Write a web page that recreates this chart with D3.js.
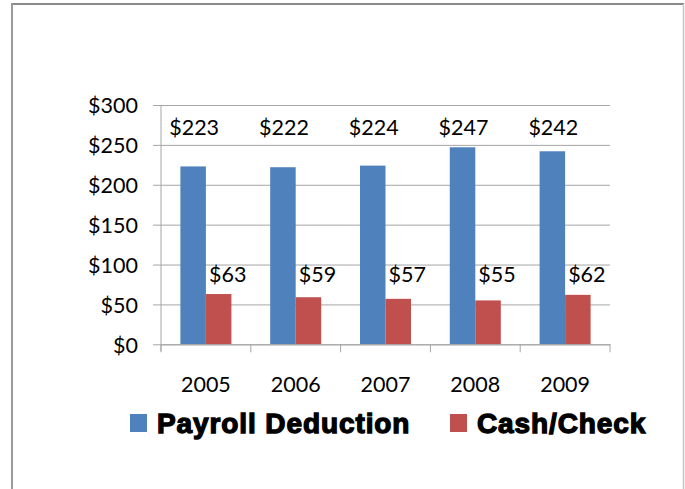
<!DOCTYPE html>
<html>
<head>
<meta charset="utf-8">
<script src="https://cdn.jsdelivr.net/npm/d3@7"></script>
<style>
  html, body { margin: 0; padding: 0; background: #fff; }
  svg { display: block; }
</style>
</head>
<body>
<svg id="chart" width="685" height="489"></svg>
<script>
const categories = ["2005", "2006", "2007", "2008", "2009"];
const seriesNames = ["Payroll Deduction", "Cash/Check"];
const payroll = [223, 222, 224, 247, 242];
const cash = [63, 59, 57, 55, 62];
const yTicks = [0, 50, 100, 150, 200, 250, 300];
const colors = ["#4f81bd", "#c0504d"];

(function () {
const svg = d3.select("#chart");
const W = 685, H = 489;
svg.append("rect").attr("width", W).attr("height", H).attr("fill", "#fff");

// frame
svg.append("line").attr("x1", 11).attr("x2", 684).attr("y1", 4).attr("y2", 4)
  .attr("stroke", "#8a8a8a").attr("stroke-width", 2);
svg.append("line").attr("x1", 12).attr("x2", 12).attr("y1", 3).attr("y2", H)
  .attr("stroke", "#9a9a9a").attr("stroke-width", 2);
svg.append("line").attr("x1", 683.5).attr("x2", 683.5).attr("y1", 4).attr("y2", H)
  .attr("stroke", "#c4c4c4").attr("stroke-width", 1.5);

const pLeft = 161, pRight = 610, pTop = 105, pBottom = 344.3;
const font = "Lato, 'Open Sans', sans-serif";
const fs = 21.5;

const x0 = d3.scaleBand().domain(categories).range([pLeft, pRight]).paddingInner(0).paddingOuter(0);
const x1 = d3.scaleBand().domain(seriesNames).range([0, x0.bandwidth()]).paddingInner(0).paddingOuter(0.76);
const y = d3.scaleLinear().domain([0, 300]).range([pBottom, pTop]);

// gridlines + y axis
const yAxis = d3.axisLeft(y).tickValues(yTicks).tickSize(8).tickPadding(15)
  .tickFormat(d => "$" + d);
const gy = svg.append("g").attr("transform", `translate(${pLeft},0)`).call(yAxis);
gy.select(".domain").remove();
gy.selectAll(".tick line").attr("stroke", "#a6a6a6").attr("x2", pRight - pLeft).attr("x1", -8);
gy.selectAll(".tick text").attr("font-family", font).attr("font-size", fs)
  .attr("fill", "#000").attr("dy", "0.36em");
svg.append("line").attr("x1", pLeft).attr("x2", pLeft).attr("y1", pTop).attr("y2", pBottom + 7)
  .attr("stroke", "#a6a6a6");

// bars
const rows = categories.map((c, i) => ({ cat: c, vals: [payroll[i], cash[i]] }));
const groups = svg.append("g").selectAll("g").data(rows).join("g")
  .attr("transform", d => `translate(${x0(d.cat)},0)`);
groups.selectAll("rect").data(d => d.vals.map((v, j) => ({ s: seriesNames[j], v, j })))
  .join("rect")
  .attr("x", d => x1(d.s)).attr("width", x1.bandwidth())
  .attr("y", d => y(d.v)).attr("height", d => y(0) - y(d.v))
  .attr("fill", d => colors[d.j]);

// x axis
const xAxis = d3.axisBottom(x0).tickSize(0).tickPadding(40);
const gx = svg.append("g").attr("transform", `translate(0,${pBottom})`).call(xAxis);
gx.select(".domain").attr("stroke", "#a6a6a6");
gx.selectAll(".tick text").attr("font-family", font).attr("font-size", fs).attr("fill", "#000")
  .attr("dy", "0").attr("y", 48);
// boundary tick marks
const bounds = categories.map(c => x0(c)).concat([x0(categories[categories.length - 1]) + x0.bandwidth()]);
svg.append("g").selectAll("line").data(bounds).join("line")
  .attr("x1", d => d).attr("x2", d => d).attr("y1", pBottom).attr("y2", pBottom + 8)
  .attr("stroke", "#a6a6a6");

// data labels (placed as in the reference, in bands away from the bar tops)
const lab = svg.append("g").attr("font-family", font).attr("font-size", fs).attr("fill", "#000")
  .attr("text-anchor", "middle");
lab.selectAll("text.p").data(rows).join("text").attr("class", "p")
  .attr("x", d => x0(d.cat) + x1(seriesNames[0]) + x1.bandwidth() / 2 + 1)
  .attr("y", y(263))
  .text(d => "$" + d.vals[0]);
lab.selectAll("text.c").data(rows).join("text").attr("class", "c")
  .attr("x", d => x0(d.cat) + x1(seriesNames[1]) + x1.bandwidth() / 2 + 9)
  .attr("y", y(78))
  .text(d => "$" + d.vals[1]);

// legend
const legX = [130, 450];
const leg = svg.append("g");
seriesNames.forEach((s, i) => {
  leg.append("rect").attr("x", legX[i]).attr("y", 414).attr("width", 17).attr("height", 18)
    .attr("fill", colors[i]);
  leg.append("text").attr("x", legX[i] + 27).attr("y", 432.5)
    .attr("font-family", "'Liberation Sans', Arial, sans-serif").attr("font-weight", "bold")
    .attr("font-size", 28).attr("letter-spacing", 0.9)
    .attr("stroke", "#000").attr("stroke-width", 1.3).attr("fill", "#000")
    .text(s);
});
})();
</script>
</body>
</html>
